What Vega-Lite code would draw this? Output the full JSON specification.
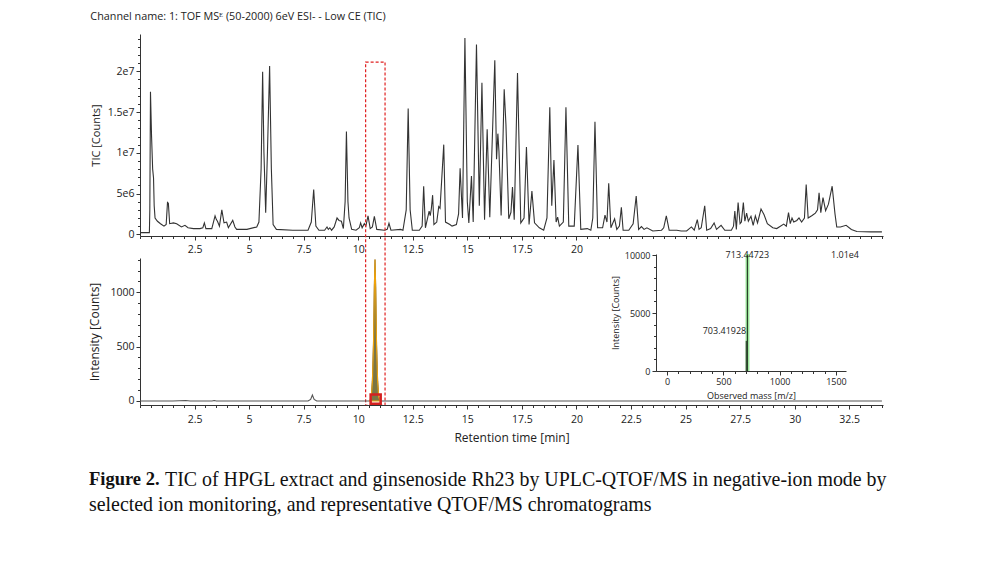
{
  "$schema": "https://vega.github.io/schema/vega-lite/v6.json",
  "background": "white",
  "padding": {"left": 88, "top": 11, "right": 5, "bottom": 5},
  "config": {
    "view": {"stroke": null},
    "font": "Open Sans",
    "axis": {"labelFont": "Open Sans", "labelFontSize": 10.5, "labelColor": "#222", "titleFont": "Open Sans", "titleFontWeight": "normal", "titleFontSize": 11, "titleColor": "#222", "domainColor": "#333", "tickColor": "#333", "grid": false, "tickSize": 4, "labelPadding": 2, "labelFlush": false}
  },
  "datasets": {
    "tic": [
      {"t":0,"v":2e5},{"t":0.43,"v":2e5},{"t":0.45,"v":3e6},{"t":0.48,"v":1.75e7},{"t":0.53,"v":1.2e7},{"t":0.58,"v":8e6},{"t":0.62,"v":6.9e6},{"t":0.65,"v":3.5e6},{"t":0.69,"v":2e6},{"t":0.8,"v":1.6e6},{"t":0.94,"v":1.3e6},{"t":1.1,"v":1e6},{"t":1.2,"v":1.2e6},{"t":1.26,"v":3.9e6},{"t":1.3,"v":3.8e6},{"t":1.36,"v":1.3e6},{"t":1.53,"v":1.4e6},{"t":1.68,"v":1.3e6},{"t":1.9,"v":9e5},{"t":2.06,"v":1.1e6},{"t":2.2,"v":8e5},{"t":2.45,"v":7e5},{"t":2.75,"v":7e5},{"t":2.88,"v":8e5},{"t":2.95,"v":1.4e6},{"t":3.02,"v":7e5},{"t":3.29,"v":7e5},{"t":3.44,"v":2.25e6},{"t":3.5,"v":1.8e6},{"t":3.55,"v":1.6e6},{"t":3.64,"v":1e6},{"t":3.75,"v":3e6},{"t":3.85,"v":1.4e6},{"t":3.97,"v":1.5e6},{"t":4.05,"v":8e5},{"t":4.25,"v":1.7e6},{"t":4.35,"v":9e5},{"t":4.43,"v":6e5},{"t":4.9,"v":6e5},{"t":5.35,"v":9e5},{"t":5.45,"v":1.5e6},{"t":5.55,"v":8e6},{"t":5.62,"v":1.995e7},{"t":5.68,"v":1e7},{"t":5.76,"v":2.65e6},{"t":5.84,"v":1e7},{"t":5.94,"v":2.065e7},{"t":6.02,"v":8e6},{"t":6.1,"v":1.2e6},{"t":6.25,"v":6e5},{"t":7.0,"v":5e5},{"t":7.7,"v":5e5},{"t":7.85,"v":1.5e6},{"t":7.96,"v":5.5e6},{"t":8.06,"v":1e6},{"t":8.2,"v":5e5},{"t":8.46,"v":5e5},{"t":8.57,"v":9e5},{"t":8.63,"v":6e5},{"t":8.7,"v":8e5},{"t":8.78,"v":5e5},{"t":8.9,"v":9e5},{"t":9.03,"v":2e6},{"t":9.12,"v":1.7e6},{"t":9.23,"v":1.6e6},{"t":9.32,"v":7e5},{"t":9.4,"v":4e6},{"t":9.46,"v":1.26e7},{"t":9.53,"v":4e6},{"t":9.58,"v":2e6},{"t":9.7,"v":6e5},{"t":9.9,"v":5e5},{"t":10.05,"v":8e5},{"t":10.11,"v":1.4e6},{"t":10.18,"v":8e5},{"t":10.28,"v":1.3e6},{"t":10.35,"v":1e6},{"t":10.45,"v":2.25e6},{"t":10.55,"v":7e5},{"t":10.65,"v":9e5},{"t":10.74,"v":2.2e6},{"t":10.85,"v":6e5},{"t":11.2,"v":5e5},{"t":11.33,"v":6e5},{"t":11.41,"v":1.35e6},{"t":11.5,"v":5e5},{"t":11.94,"v":6e5},{"t":12.05,"v":5e5},{"t":12.2,"v":3e6},{"t":12.29,"v":1.545e7},{"t":12.38,"v":3e6},{"t":12.48,"v":5e5},{"t":12.8,"v":5e5},{"t":12.93,"v":1e6},{"t":13.0,"v":5.9e6},{"t":13.08,"v":8e5},{"t":13.25,"v":2.85e6},{"t":13.3,"v":2.3e6},{"t":13.35,"v":3.1e6},{"t":13.41,"v":4.8e6},{"t":13.47,"v":1.2e6},{"t":13.6,"v":1.5e6},{"t":13.69,"v":3.4e6},{"t":13.75,"v":3.2e6},{"t":13.92,"v":1.1e7},{"t":14.0,"v":1.5e6},{"t":14.2,"v":1.2e6},{"t":14.3,"v":1e6},{"t":14.5,"v":1.2e6},{"t":14.6,"v":2.5e6},{"t":14.67,"v":8.1e6},{"t":14.78,"v":2e6},{"t":14.89,"v":2.41e7},{"t":15.0,"v":4e6},{"t":15.07,"v":1.4e6},{"t":15.19,"v":7.15e6},{"t":15.27,"v":1.5e6},{"t":15.42,"v":2.33e7},{"t":15.55,"v":3.5e6},{"t":15.67,"v":1.86e7},{"t":15.79,"v":1.8e6},{"t":15.91,"v":1.29e7},{"t":16.03,"v":2.1e6},{"t":16.26,"v":2.135e7},{"t":16.34,"v":9.2e6},{"t":16.4,"v":1.235e7},{"t":16.45,"v":1.02e7},{"t":16.55,"v":2.3e6},{"t":16.69,"v":1.78e7},{"t":16.77,"v":1.35e7},{"t":16.9,"v":1.9e6},{"t":17.0,"v":2.7e6},{"t":17.07,"v":5.8e6},{"t":17.15,"v":1.8e6},{"t":17.3,"v":1.98e7},{"t":17.45,"v":1.4e6},{"t":17.6,"v":2e6},{"t":17.71,"v":1.07e7},{"t":17.83,"v":1.2e6},{"t":17.96,"v":5.3e6},{"t":18.08,"v":1.4e6},{"t":18.3,"v":8e5},{"t":18.5,"v":5e5},{"t":18.65,"v":2e6},{"t":18.78,"v":1.56e7},{"t":18.87,"v":3.5e6},{"t":18.97,"v":9.1e6},{"t":19.07,"v":1.5e6},{"t":19.14,"v":2.1e6},{"t":19.22,"v":1e6},{"t":19.4,"v":1.5e6},{"t":19.52,"v":1.56e7},{"t":19.65,"v":1e6},{"t":19.9,"v":1e6},{"t":20.07,"v":1.095e7},{"t":20.2,"v":6e5},{"t":20.5,"v":7e5},{"t":20.66,"v":5e5},{"t":20.75,"v":2e6},{"t":20.85,"v":1.38e7},{"t":20.97,"v":8e5},{"t":21.2,"v":8e5},{"t":21.31,"v":2.35e6},{"t":21.4,"v":1.5e6},{"t":21.48,"v":6.25e6},{"t":21.58,"v":8e5},{"t":21.75,"v":1.9e6},{"t":21.85,"v":6e5},{"t":21.97,"v":1e6},{"t":22.06,"v":3.3e6},{"t":22.14,"v":5e5},{"t":22.4,"v":5e5},{"t":22.6,"v":1.3e6},{"t":22.74,"v":4.7e6},{"t":22.85,"v":6e5},{"t":22.98,"v":9.5e5},{"t":23.1,"v":6e5},{"t":23.23,"v":8e5},{"t":23.5,"v":4e5},{"t":23.9,"v":5e5},{"t":24.0,"v":8e5},{"t":24.12,"v":2.25e6},{"t":24.25,"v":5e5},{"t":24.6,"v":5e5},{"t":24.8,"v":4e5},{"t":25.05,"v":4e5},{"t":25.27,"v":9e5},{"t":25.4,"v":5e5},{"t":25.54,"v":1.8e6},{"t":25.62,"v":6e5},{"t":25.72,"v":8e5},{"t":25.88,"v":3.5e6},{"t":25.97,"v":5e5},{"t":26.15,"v":7e5},{"t":26.31,"v":1.4e6},{"t":26.42,"v":6e5},{"t":26.63,"v":1.1e6},{"t":26.8,"v":5e5},{"t":27.1,"v":5e5},{"t":27.2,"v":1e6},{"t":27.26,"v":2.85e6},{"t":27.33,"v":6e5},{"t":27.41,"v":3.9e6},{"t":27.5,"v":1.3e6},{"t":27.56,"v":1.5e6},{"t":27.65,"v":3.9e6},{"t":27.72,"v":1.6e6},{"t":27.8,"v":2.6e6},{"t":27.88,"v":1.6e6},{"t":28.0,"v":2.2e6},{"t":28.1,"v":1.1e6},{"t":28.2,"v":2.25e6},{"t":28.3,"v":1.4e6},{"t":28.46,"v":3.1e6},{"t":28.6,"v":2.4e6},{"t":28.75,"v":1.3e6},{"t":29.0,"v":8e5},{"t":29.18,"v":7e5},{"t":29.5,"v":1.25e6},{"t":29.62,"v":1e6},{"t":29.72,"v":2.65e6},{"t":29.8,"v":1.3e6},{"t":29.88,"v":2e6},{"t":29.96,"v":1.5e6},{"t":30.1,"v":1.7e6},{"t":30.2,"v":2e6},{"t":30.32,"v":1.5e6},{"t":30.45,"v":2e6},{"t":30.53,"v":6.1e6},{"t":30.62,"v":2e6},{"t":30.8,"v":2.3e6},{"t":30.95,"v":2.6e6},{"t":31.05,"v":3e6},{"t":31.12,"v":5.1e6},{"t":31.2,"v":2.65e6},{"t":31.3,"v":4.5e6},{"t":31.42,"v":2.9e6},{"t":31.55,"v":3.7e6},{"t":31.72,"v":5.9e6},{"t":31.85,"v":2.5e6},{"t":31.93,"v":9e5},{"t":32.1,"v":9e5},{"t":32.36,"v":1.1e6},{"t":32.6,"v":6e5},{"t":32.85,"v":3.5e5},{"t":33.5,"v":3e5},{"t":34.0,"v":3e5}
    ],
    "sir": [
      {"t":0,"v":0},{"t":1.5,"v":0},{"t":2.1,"v":4},{"t":2.3,"v":0},{"t":3.3,"v":0},{"t":3.4,"v":4},{"t":3.5,"v":0},{"t":7.7,"v":0},{"t":7.82,"v":15},{"t":7.9,"v":55},{"t":7.98,"v":15},{"t":8.1,"v":0},{"t":10.5,"v":0},{"t":10.55,"v":5},{"t":10.6,"v":40},{"t":10.65,"v":180},{"t":10.7,"v":520},{"t":10.74,"v":1050},{"t":10.77,"v":1300},{"t":10.8,"v":1050},{"t":10.84,"v":520},{"t":10.89,"v":180},{"t":10.94,"v":40},{"t":10.99,"v":5},{"t":11.05,"v":0},{"t":34,"v":0}
    ],
    "box": [{"x1": 10.34, "x2": 11.23, "y1": 2.114e7, "y2": -2.098e7}],
    "marker": [{"x1": 10.57, "x2": 11.03, "y1": -25, "y2": 60}],
    "band": [{"m1": 697, "m2": 732, "i1": 0, "i2": 10100}],
    "ms": [{"mz": 703.42, "i0": 0, "i": 2600}, {"mz": 713.45, "i0": 0, "i": 10000}],
    "notesC": [
      {"mz": 713.45, "i": 10000, "label": "713.44723"},
      {"mz": 1580, "i": 10000, "label": "1.01e4"}
    ],
    "notesR": [
      {"mz": 703.42, "i": 3450, "label": "703.41928"}
    ]
  },
  "title": {"text": "Figure 2.", "orient": "bottom", "anchor": "start", "frame": "bounds", "font": "Liberation Serif", "fontSize": 18.5, "fontWeight": "bold", "color": "#111", "offset": -45},
  "vconcat": [
    {
      "title": {"text": "selected ion monitoring, and representative QTOF/MS chromatograms", "orient": "bottom", "anchor": "start", "frame": "bounds", "font": "Liberation Serif", "fontSize": 19.9, "fontWeight": "normal", "color": "#111", "offset": 6},
      "spacing": 22,
      "bounds": "flush",
      "vconcat": [
        {
          "width": 743,
          "height": 202,
          "title": {"text": "Channel name: 1: TOF MSᴱ (50-2000) 6eV ESI- - Low CE (TIC)", "anchor": "start", "frame": "bounds", "font": "Open Sans", "fontSize": 10.8, "fontWeight": "normal", "color": "#222", "offset": 12},
          "layer": [
            {
              "data": {"name": "tic"},
              "mark": {"type": "line", "color": "#333", "strokeWidth": 1.1},
              "encoding": {
                "x": {"field": "t", "type": "quantitative", "scale": {"domain": [0, 34.05], "nice": false, "zero": false}, "axis": {"orient": "bottom", "values": [2.5, 5, 7.5, 10, 12.5, 15, 17.5, 20], "format": ".3~g", "title": null, "labelPadding": 4}},
                "y": {"field": "v", "type": "quantitative", "scale": {"domain": [-210000, 24580000], "nice": false, "zero": false}, "axis": {"orient": "left", "values": [0, 5000000, 10000000, 15000000, 20000000], "labelExpr": "datum.value == 0 ? '0' : replace(format(datum.value, '.2~e'), 'e+', 'e')", "title": "TIC [Counts]", "titlePadding": 6}}
              }
            },
            {
              "data": {"name": "box"},
              "mark": {"type": "rect", "fill": null, "stroke": "#e02020", "strokeDash": [3, 2], "strokeWidth": 1.2},
              "encoding": {
                "x": {"field": "x1", "type": "quantitative", "axis": {"orient": "bottom", "tickCount": 68, "labels": false, "domain": false, "tickSize": 2.5, "title": null}},
                "x2": {"field": "x2"},
                "y": {"field": "y1", "type": "quantitative", "axis": {"orient": "left", "tickCount": 25, "labels": false, "domain": false, "tickSize": 2.5, "title": null}},
                "y2": {"field": "y2"}
              }
            }
          ],
          "resolve": {"axis": {"x": "independent", "y": "independent"}}
        },
        {
          "width": 743,
          "height": 147,
          "title": {"text": "TIC of HPGL extract and ginsenoside Rh23 by UPLC-QTOF/MS in negative-ion mode by", "orient": "bottom", "anchor": "start", "frame": "bounds", "font": "Liberation Serif", "fontSize": 19.9, "fontWeight": "normal", "color": "#111", "offset": 26, "dx": 76},
          "layer": [
            {
              "layer": [
                {
                  "data": {"name": "sir"},
                  "mark": {"type": "line", "color": "#555", "strokeWidth": 1.1},
                  "encoding": {
                    "x": {"field": "t", "type": "quantitative", "scale": {"domain": [0, 34.05], "nice": false, "zero": false}, "axis": {"orient": "bottom", "values": [2.5, 5, 7.5, 10, 12.5, 15, 17.5, 20, 22.5, 25, 27.5, 30, 32.5], "format": ".3~g", "title": "Retention time [min]", "labelPadding": 5, "titleFontSize": 12, "titlePadding": 8}},
                    "y": {"field": "v", "type": "quantitative", "scale": {"domain": [-37, 1315], "nice": false, "zero": false}, "axis": {"orient": "left", "values": [0, 500, 1000], "format": "d", "title": "Intensity [Counts]", "titleFontSize": 12, "titlePadding": 8}}
                  }
                },
                {
                  "data": {"name": "sir"},
                  "transform": [{"filter": "datum.t >= 10.5 && datum.t <= 11.05"}],
                  "mark": {"type": "area", "fill": "#7a7545", "stroke": "#f0a30a", "strokeWidth": 1.1},
                  "encoding": {
                    "x": {"field": "t", "type": "quantitative", "axis": null},
                    "y": {"field": "v", "type": "quantitative", "axis": null}
                  }
                },
                {
                  "data": {"name": "marker"},
                  "mark": {"type": "rect", "fill": null, "stroke": "#d42020", "strokeWidth": 2.5},
                  "encoding": {
                    "x": {"field": "x1", "type": "quantitative", "axis": {"orient": "bottom", "tickCount": 68, "labels": false, "domain": false, "tickSize": 2.5, "title": null}},
                    "x2": {"field": "x2"},
                    "y": {"field": "y1", "type": "quantitative", "axis": {"orient": "left", "tickCount": 14, "labels": false, "domain": false, "tickSize": 2.5, "title": null}},
                    "y2": {"field": "y2"}
                  }
                }
              ],
              "resolve": {"axis": {"x": "independent", "y": "independent"}}
            },
            {
              "layer": [
                {
                  "data": {"name": "band"},
                  "mark": {"type": "rect", "fill": "#9be69b"},
                  "encoding": {
                    "x": {"field": "m1", "type": "quantitative", "scale": {"domain": [-98, 1589], "range": [516, 706], "nice": false, "zero": false}, "axis": {"orient": "bottom", "offset": -34, "values": [0, 500, 1000, 1500], "format": "d", "title": "Observed mass [m/z]", "labelFontSize": 9, "titleFontSize": 9, "titlePadding": 5, "labelPadding": 2}},
                    "x2": {"field": "m2"},
                    "y": {"field": "i1", "type": "quantitative", "scale": {"domain": [0, 10100], "range": [113, -4], "nice": false, "zero": false}, "axis": {"orient": "left", "offset": -516, "values": [0, 5000, 10000], "format": "d", "title": "Intensity [Counts]", "labelFontSize": 9, "titleFontSize": 9, "titlePadding": 4, "labelPadding": 2}},
                    "y2": {"field": "i2"}
                  }
                },
                {
                  "data": {"name": "ms"},
                  "mark": {"type": "rule", "color": "#1c2a1c", "strokeWidth": 1},
                  "encoding": {
                    "x": {"field": "mz", "type": "quantitative", "axis": {"orient": "bottom", "offset": -34, "tickCount": 17, "labels": false, "domain": false, "tickSize": 2.5, "title": null}},
                    "y": {"field": "i0", "type": "quantitative", "axis": {"orient": "left", "offset": -516, "tickCount": 10, "labels": false, "domain": false, "tickSize": 2.5, "title": null}},
                    "y2": {"field": "i"}
                  }
                },
                {
                  "data": {"name": "notesC"},
                  "mark": {"type": "text", "font": "Open Sans", "fontSize": 9, "color": "#222", "baseline": "middle", "align": "center"},
                  "encoding": {
                    "x": {"field": "mz", "type": "quantitative", "axis": null},
                    "y": {"field": "i", "type": "quantitative", "axis": null},
                    "text": {"field": "label"}
                  }
                },
                {
                  "data": {"name": "notesR"},
                  "mark": {"type": "text", "font": "Open Sans", "fontSize": 9, "color": "#222", "baseline": "middle", "align": "right"},
                  "encoding": {
                    "x": {"field": "mz", "type": "quantitative", "axis": null},
                    "y": {"field": "i", "type": "quantitative", "axis": null},
                    "text": {"field": "label"}
                  }
                }
              ],
              "resolve": {"axis": {"x": "independent", "y": "independent"}}
            }
          ],
          "resolve": {"scale": {"x": "independent", "y": "independent"}, "axis": {"x": "independent", "y": "independent"}}
        }
      ]
    }
  ]
}
